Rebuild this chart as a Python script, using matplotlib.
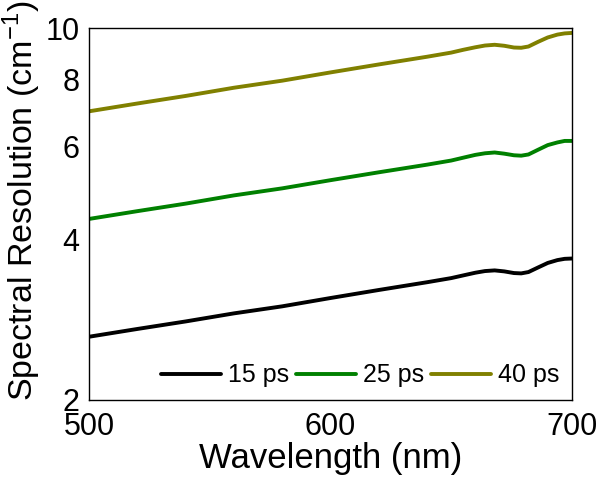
import matplotlib
matplotlib.use("Agg")
import matplotlib.pyplot as plt
from matplotlib.ticker import FixedLocator, NullLocator

plt.rcParams['font.family'] = ['Liberation Sans', 'DejaVu Sans']
plt.rcParams['axes.unicode_minus'] = False

# values (log y axis)
wavelength = [500, 520, 540, 560, 580, 600, 620, 640, 650, 655, 660, 664, 668,
              672, 676, 679, 682, 686, 690, 694, 697, 700]
res_15ps = [2.63, 2.72, 2.81, 2.91, 3.00, 3.11, 3.22, 3.33, 3.39, 3.43, 3.47, 3.495,
            3.505, 3.49, 3.465, 3.46, 3.48, 3.55, 3.62, 3.665, 3.685, 3.69]
res_25ps = [4.38, 4.53, 4.68, 4.85, 5.00, 5.18, 5.36, 5.54, 5.64, 5.71, 5.78, 5.82,
            5.84, 5.81, 5.77, 5.76, 5.79, 5.91, 6.03, 6.10, 6.14, 6.14]
res_40ps = [6.98, 7.22, 7.46, 7.73, 7.97, 8.26, 8.55, 8.84, 9.00, 9.11, 9.21, 9.28,
            9.31, 9.27, 9.20, 9.19, 9.24, 9.43, 9.61, 9.73, 9.78, 9.80]

labels = ['15 ps', '25 ps', '40 ps']
colors = ['black', '#008000', '#808000']
x_ticks = [500, 600, 700]
y_ticks = [2, 4, 6, 8, 10]

fig = plt.figure(figsize=(6.02, 4.84), dpi=100)
ax = fig.add_axes([0.148, 0.1736, 0.802, 0.768])

for ys, lab, c in zip([res_15ps, res_25ps, res_40ps], labels, colors):
    ax.plot(wavelength, ys, color=c, lw=2.8, label=lab, solid_capstyle='round')

ax.set_yscale('log')
ax.set_xlim(500, 700)
ax.set_ylim(2, 10)
ax.yaxis.set_major_locator(FixedLocator(y_ticks))
ax.yaxis.set_minor_locator(NullLocator())
ax.set_yticklabels([str(t) for t in y_ticks])
ax.set_xticks(x_ticks)
ax.set_xticklabels([str(t) for t in x_ticks])
ax.tick_params(axis='both', which='both', length=0, labelsize=22)
ax.tick_params(axis='x', pad=9)
ax.tick_params(axis='y', pad=7)

for s in ax.spines.values():
    s.set_linewidth(1.0)

ax.set_xlabel('Wavelength (nm)', fontsize=25, labelpad=0)
ax.set_ylabel('Spectral Resolution (cm$^{\\mathregular{-1}}$)', fontsize=24.5)
ax.yaxis.set_label_coords(-0.095, 0.535)

ax.legend(loc='lower right', ncol=3, frameon=False, fontsize=18,
          handlelength=2.4, handletextpad=0.3, columnspacing=0.25,
          borderaxespad=0.1, bbox_to_anchor=(1.0, 0.0))

fig.savefig('out.png', dpi=100)
